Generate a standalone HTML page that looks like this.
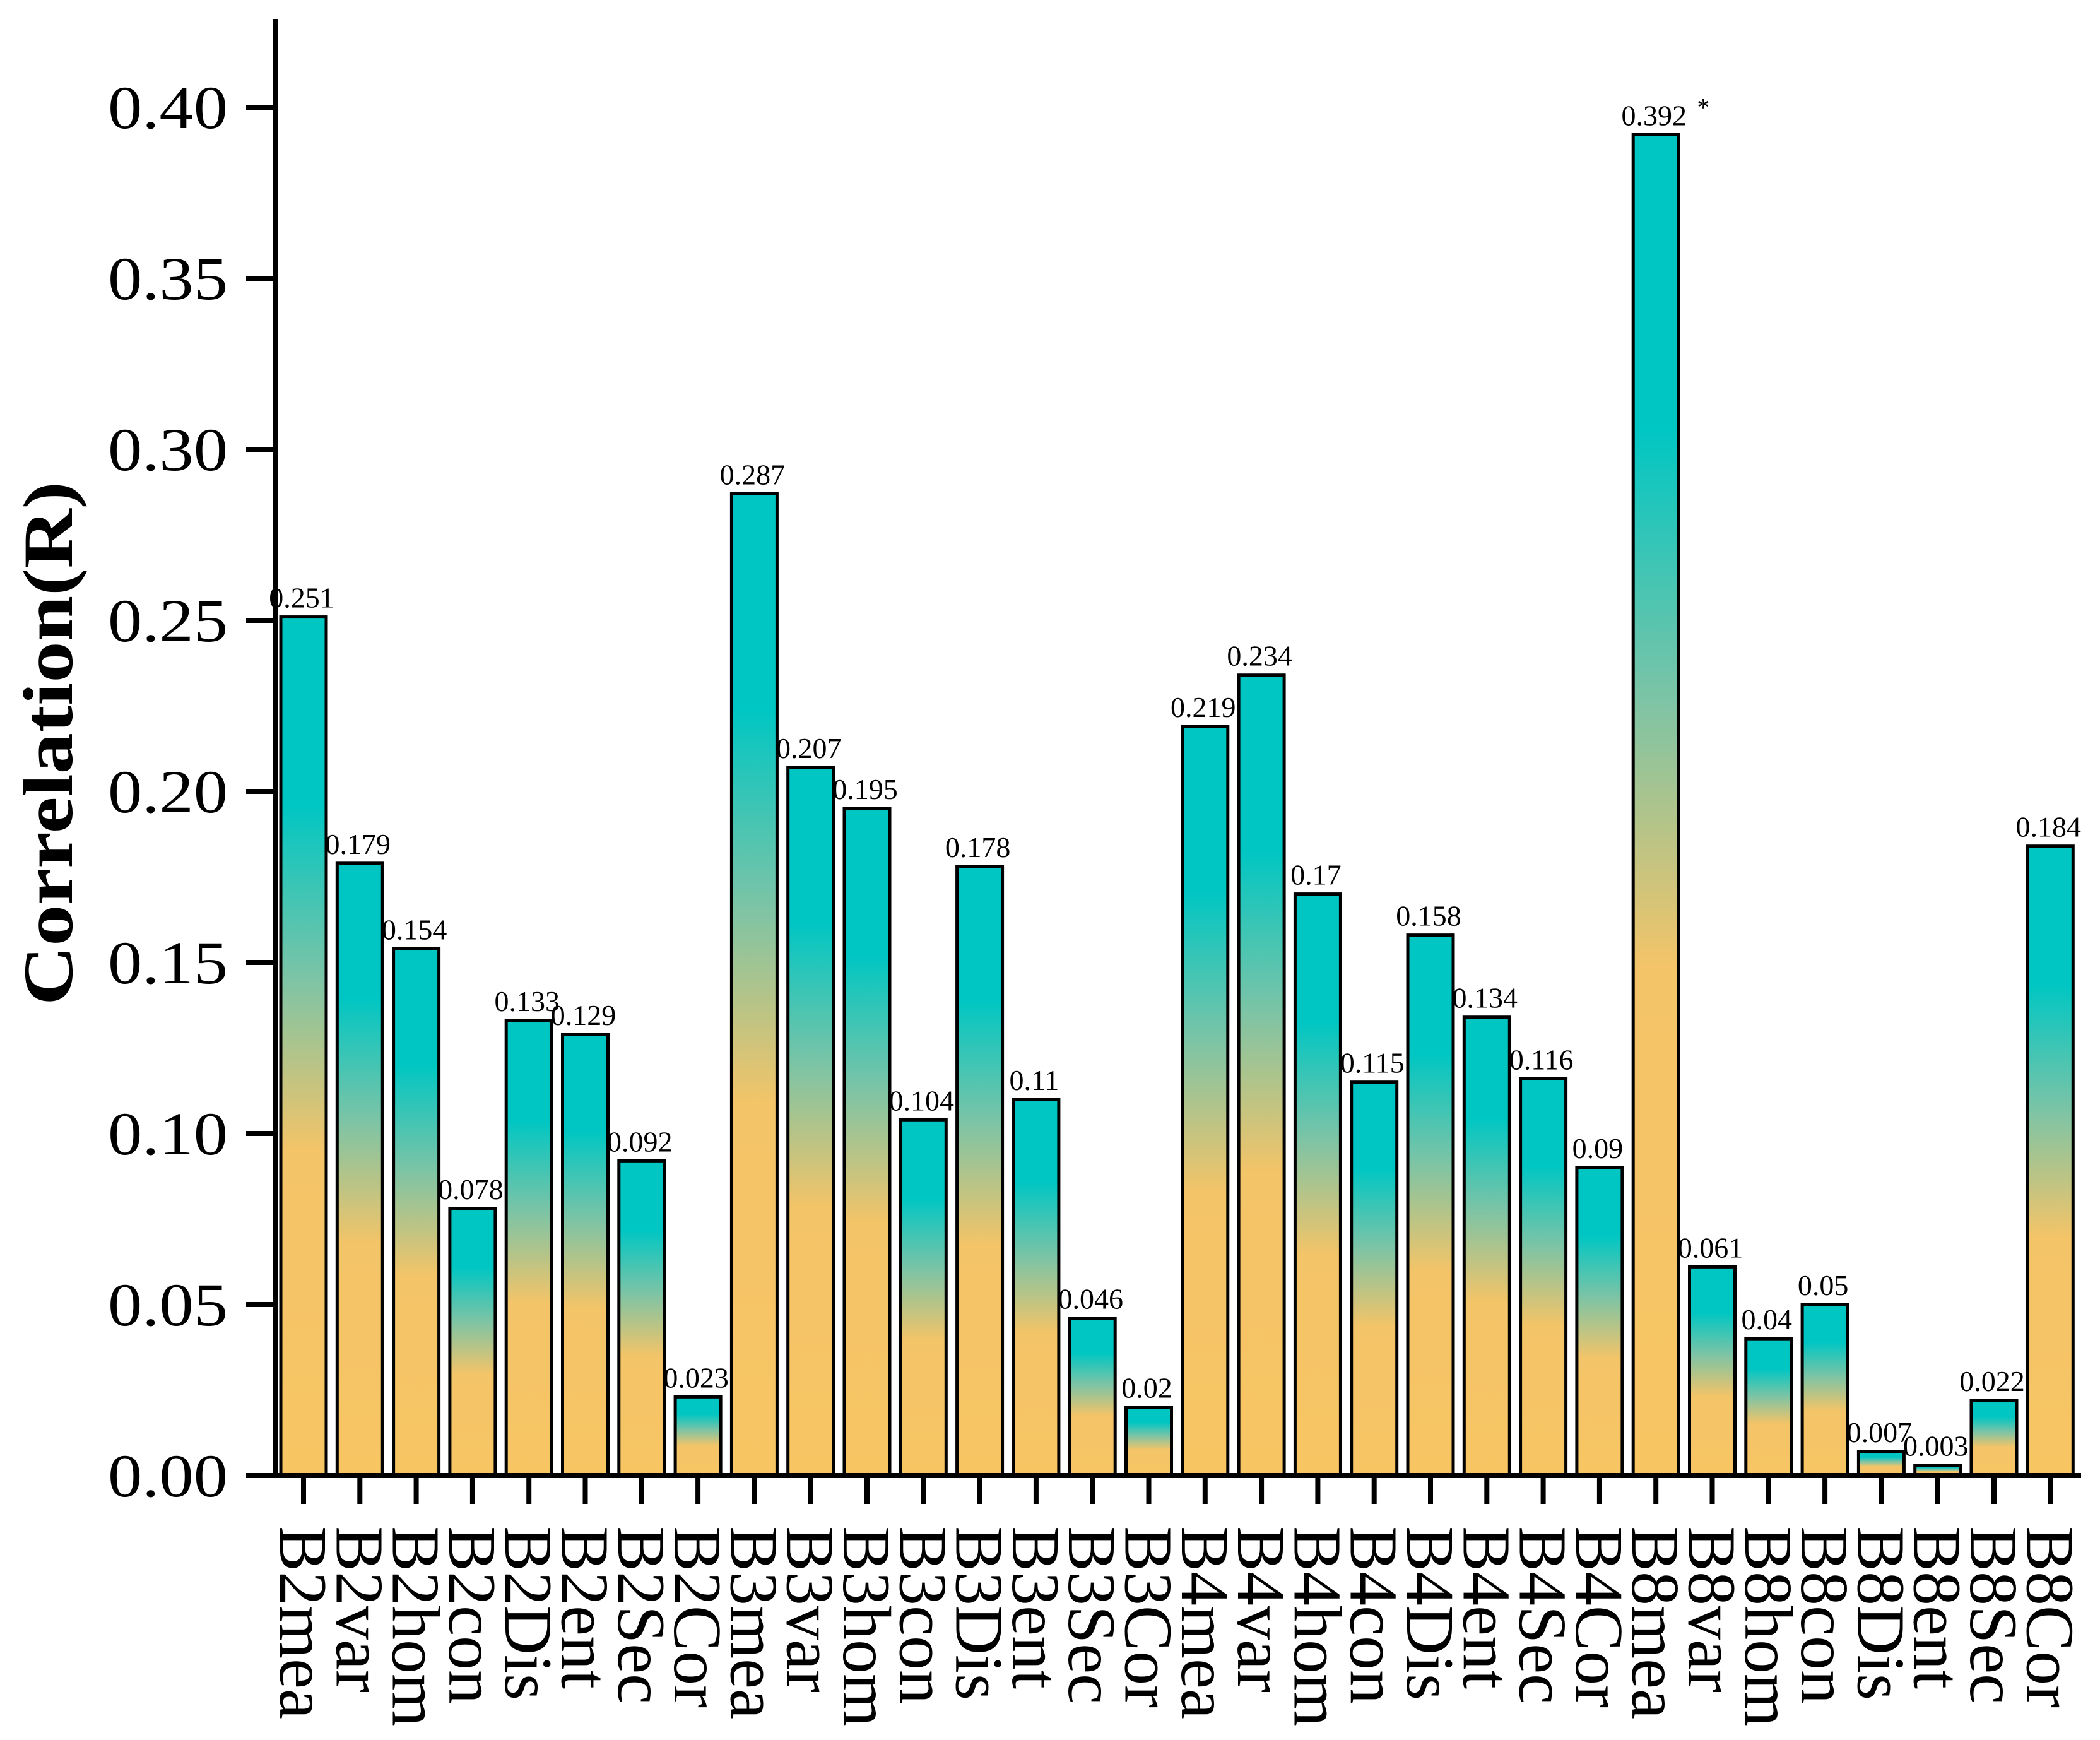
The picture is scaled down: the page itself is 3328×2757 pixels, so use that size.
<!DOCTYPE html>
<html><head><meta charset="utf-8"><style>
html,body{margin:0;padding:0;background:#fff}
svg{display:block}
text{font-family:"Liberation Serif","Times New Roman",serif;fill:#000}
</style></head><body>
<svg id="chart" width="3328" height="2757" viewBox="0 0 3328 2757" xmlns="http://www.w3.org/2000/svg">
<defs>
<linearGradient id="barGrad" x1="0" y1="0" x2="0" y2="1">
<stop offset="0" stop-color="#00C6C3"/>
<stop offset="0.22" stop-color="#00C6C3"/>
<stop offset="0.42" stop-color="#7CC4A6"/>
<stop offset="0.62" stop-color="#F3C468"/>
<stop offset="1" stop-color="#F8C563"/>
</linearGradient>
</defs>
<g id="bars"></g>
<g id="axes"></g>
</svg>
<script>
const categories = ["B2mea","B2var","B2hom","B2con","B2Dis","B2ent","B2Sec","B2Cor","B3mea","B3var","B3hom","B3con","B3Dis","B3ent","B3Sec","B3Cor","B4mea","B4var","B4hom","B4con","B4Dis","B4ent","B4Sec","B4Cor","B8mea","B8var","B8hom","B8con","B8Dis","B8ent","B8Sec","B8Cor"];
const values = [0.251,0.179,0.154,0.078,0.133,0.129,0.092,0.023,0.287,0.207,0.195,0.104,0.178,0.11,0.046,0.02,0.219,0.234,0.17,0.115,0.158,0.134,0.116,0.09,0.392,0.061,0.04,0.05,0.007,0.003,0.022,0.184];
const valueLabels = ["0.251","0.179","0.154","0.078","0.133","0.129","0.092","0.023","0.287","0.207","0.195","0.104","0.178","0.11","0.046","0.02","0.219","0.234","0.17","0.115","0.158","0.134","0.116","0.09","0.392","0.061","0.04","0.05","0.007","0.003","0.022","0.184"];
const yTicks = [0,0.05,0.10,0.15,0.20,0.25,0.30,0.35,0.40];
const yTickLabels = ["0.00","0.05","0.10","0.15","0.20","0.25","0.30","0.35","0.40"];
const significant = [24];

const NS = "http://www.w3.org/2000/svg";
const X0 = 437, Y0 = 2338, YPX = 5420, X_FIRST = 481, STEP = 89.3, BW = 72;
function yScale(v){ return Y0 - v*YPX; }
function xScale(i){ return X_FIRST + i*STEP; }
function mk(tag, attrs, parent){ const e=document.createElementNS(NS,tag); for(const k in attrs) e.setAttribute(k,attrs[k]); parent.appendChild(e); return e; }

const bars = document.getElementById('bars');
const axes = document.getElementById('axes');

values.forEach((v,i)=>{
  const cx = xScale(i), top = yScale(v);
  const r = mk('rect',{x:cx-BW/2,y:top,width:BW,height:Y0-top,fill:'url(#barGrad)',stroke:'#000','stroke-width':5},bars);
  
  
  const t = mk('text',{x:cx-3,y:top-15,'font-size':46,'text-anchor':'middle'},bars);
  t.textContent = valueLabels[i];
  
  
  if (significant.includes(i)) {
    const s = mk('text',{x:cx+65,y:top-30,'font-size':40},bars);
    s.textContent = '*';
    
    
  }
});

const ya = mk('line',{x1:X0,y1:30,x2:X0,y2:Y0+4,stroke:'#000','stroke-width':8},axes);


const xa = mk('line',{x1:X0-4,y1:Y0,x2:3298,y2:Y0,stroke:'#000','stroke-width':8},axes);



yTicks.forEach((v,i)=>{
  const y = yScale(v);
  const tk = mk('line',{x1:390,y1:y,x2:X0,y2:y,stroke:'#000','stroke-width':8},axes);
  
  
  const t = mk('text',{x:361,y:y+33,'font-size':96,'text-anchor':'end',textLength:190,lengthAdjust:'spacingAndGlyphs'},axes);
  t.textContent = yTickLabels[i];
  
  
});

categories.forEach((c,i)=>{
  const cx = xScale(i);
  const tk = mk('line',{x1:cx,y1:Y0,x2:cx,y2:2383,stroke:'#000','stroke-width':8},axes);
  
  
  const t = mk('text',{x:0,y:0,'font-size':108,transform:`translate(${cx-37},2418) rotate(90)`},axes);
  t.textContent = c;
  
  
});

const yt = mk('text',{x:0,y:0,'font-size':112,'font-weight':'bold','text-anchor':'middle',textLength:830,lengthAdjust:'spacingAndGlyphs',transform:'translate(114,1178) rotate(-90)'},axes);
yt.textContent = 'Correlation(R)';


</script>
</body></html>
